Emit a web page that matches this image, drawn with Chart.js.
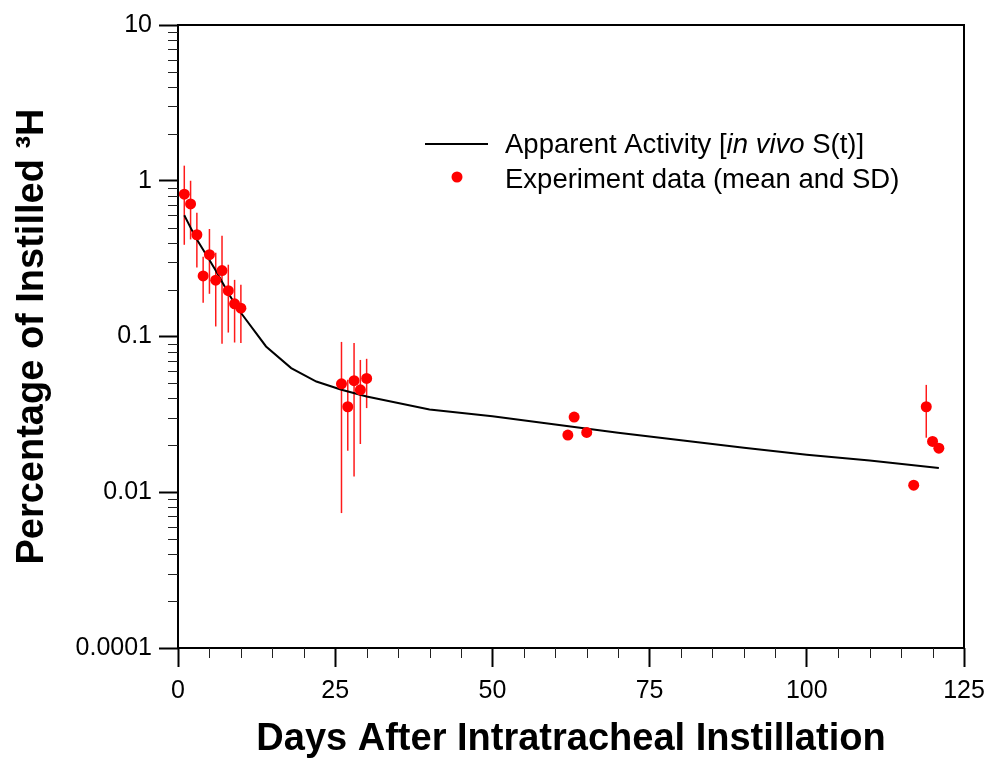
<!DOCTYPE html>
<html>
<head>
<meta charset="utf-8">
<script src="https://cdn.jsdelivr.net/npm/chart.js@4.4.1/dist/chart.umd.min.js"></script>
<style>
  html, body { margin: 0; padding: 0; background: #fff; }
</style>
</head>
<body>
<canvas id="chart" width="987" height="760"></canvas>
<script>
// experiment data (mean and SD)
const expDays  = [1, 2, 3, 4, 5, 6, 7, 8, 9, 10, 26, 27, 28, 29, 30, 62, 63, 65, 117, 119, 120, 121]
const expMean  = [0.82, 0.71, 0.45, 0.245, 0.335, 0.23, 0.265, 0.197, 0.162, 0.152,
                  0.0497, 0.0354, 0.052, 0.0455, 0.0538, 0.0233, 0.0304, 0.0242,
                  0.0111, 0.0354, 0.0212, 0.0192]
const expLow   = [0.388, 0.42, 0.277, 0.165, 0.188, 0.116, 0.09, 0.106, 0.0915, 0.091,
                  0.00735, 0.0185, 0.0126, 0.0204, 0.0347, null, null, null,
                  null, 0.0224, null, null]
const expHigh  = [1.25, 1.0, 0.623, 0.325, 0.49, 0.345, 0.443, 0.289, 0.231, 0.215,
                  0.0923, 0.0528, 0.0909, 0.0707, 0.0719, null, null, null,
                  null, 0.0489, null, null]

// apparent activity, in vivo S(t)
const curveDays   = [1, 2, 3, 4, 5, 6, 7, 8, 9, 10, 14, 18, 22, 26, 30, 40, 50, 60, 70, 80, 90, 100, 110, 121]
const curveValues = [0.60, 0.50, 0.42, 0.36, 0.31, 0.265, 0.225, 0.19, 0.163, 0.142, 0.0863, 0.0627,
                     0.0514, 0.0455, 0.0412, 0.034, 0.0308, 0.0272, 0.0241, 0.0216, 0.0193, 0.0174,
                     0.016, 0.0143]

const xTicks = [0, 25, 50, 75, 100, 125]
const yTickValues = [0.001, 0.01, 0.1, 1, 10]
const yTickLabels = ['0.0001', '0.01', '0.1', '1', '10']

const FONT = '"Liberation Sans", Arial, sans-serif'

const errorBars = {
  id: 'errorBars',
  beforeDatasetsDraw(chart) {
    const {ctx, scales: {x, y}} = chart
    ctx.save()
    ctx.strokeStyle = '#ff1a1a'
    ctx.lineWidth = 1.5
    expDays.forEach((d, i) => {
      if (expLow[i] == null) return
      const px = x.getPixelForValue(d)
      ctx.beginPath()
      ctx.moveTo(px, y.getPixelForValue(expLow[i]))
      ctx.lineTo(px, y.getPixelForValue(expHigh[i]))
      ctx.stroke()
    })
    ctx.restore()
  }
}

const frameAndMinor = {
  id: 'frameAndMinor',
  afterDraw(chart) {
    const {ctx, chartArea: a, scales: {x, y}} = chart
    ctx.save()
    ctx.strokeStyle = '#000'
    ctx.lineWidth = 2
    ctx.strokeRect(a.left, a.top, a.right - a.left, a.bottom - a.top)

    ctx.lineWidth = 1
    ctx.strokeStyle = '#222'
    ctx.beginPath()
    for (let d = 0.001; d < 10; d *= 10) {
      for (let k = 2; k <= 9; k++) {
        const py = Math.round(y.getPixelForValue(d * k)) + 0.5
        ctx.moveTo(a.left - 10, py)
        ctx.lineTo(a.left, py)
      }
    }
    for (let v = 5; v < 125; v += 5) {
      if (v % 25 === 0) continue
      const px = Math.round(x.getPixelForValue(v)) + 0.5
      ctx.moveTo(px, a.bottom)
      ctx.lineTo(px, a.bottom + 10)
    }
    ctx.stroke()
    ctx.restore()
  }
}

const customLegend = {
  id: 'customLegend',
  afterDraw(chart) {
    const {ctx, chartArea: a} = chart
    const lx = a.left + 247, tx = a.left + 327
    const y1 = a.top + 119, y2 = a.top + 152
    ctx.save()
    ctx.strokeStyle = '#000'
    ctx.lineWidth = 2
    ctx.beginPath()
    ctx.moveTo(lx, y1)
    ctx.lineTo(lx + 63, y1)
    ctx.stroke()

    ctx.fillStyle = '#ff0000'
    ctx.beginPath()
    ctx.arc(lx + 32, y2, 5.5, 0, Math.PI * 2)
    ctx.fill()

    ctx.fillStyle = '#000'
    ctx.textBaseline = 'alphabetic'
    const base1 = a.top + 128, base2 = a.top + 163
    const parts = [['Apparent Activity [', ''], ['in vivo', 'italic '], [' S(t)]', '']]
    let cx = tx
    parts.forEach(([t, style]) => {
      ctx.font = style + '27.5px ' + FONT
      ctx.fillText(t, cx, base1)
      cx += ctx.measureText(t).width
    })
    ctx.font = '27.5px ' + FONT
    ctx.fillText('Experiment data (mean and SD)', tx, base2)
    ctx.restore()
  }
}

new Chart(document.getElementById('chart'), {
  data: {
    datasets: [
      {
        type: 'scatter',
        label: 'Experiment data (mean and SD)',
        data: expDays.map((d, i) => ({x: d, y: expMean[i]})),
        backgroundColor: '#ff0000',
        borderWidth: 0,
        pointRadius: 5.5,
        order: 0
      },
      {
        type: 'line',
        label: 'Apparent Activity [in vivo S(t)]',
        data: curveDays.map((d, i) => ({x: d, y: curveValues[i]})),
        borderColor: '#000',
        borderWidth: 2,
        pointRadius: 0,
        tension: 0,
        fill: false,
        order: 1
      }
    ]
  },
  options: {
    responsive: false,
    animation: false,
    layout: { padding: { left: 0, top: 25, right: 23, bottom: 0 } },
    plugins: {
      legend: { display: false },
      tooltip: { enabled: false }
    },
    scales: {
      x: {
        type: 'linear',
        min: 0,
        max: 125,
        afterBuildTicks: s => { s.ticks = xTicks.map(v => ({value: v})) },
        afterFit: s => { s.height = 112; s.paddingRight = 0; s.paddingLeft = 0 },
        border: { display: false },
        grid: { drawOnChartArea: false, tickLength: 19, tickWidth: 2, tickColor: '#000' },
        ticks: { color: '#000', padding: 9, font: { family: FONT, size: 25 }, maxRotation: 0 },
        title: {
          display: true,
          text: 'Days After Intratracheal Instillation',
          color: '#000',
          font: { family: FONT, size: 38, weight: 'bold', lineHeight: 1 },
          padding: { top: 0, bottom: 1 }
        }
      },
      y: {
        type: 'logarithmic',
        min: 0.001,
        max: 10,
        afterBuildTicks: s => { s.ticks = yTickValues.map(v => ({value: v})) },
        afterFit: s => { s.width = 178; s.paddingTop = 0; s.paddingBottom = 0 },
        border: { display: false },
        grid: { drawOnChartArea: false, tickLength: 19, tickWidth: 2, tickColor: '#000' },
        ticks: {
          color: '#000',
          padding: 7,
          autoSkip: false,
          font: { family: FONT, size: 25 },
          callback: (v, i) => yTickLabels[i]
        },
        title: {
          display: true,
          text: 'Percentage of Instilled \u00B3H',
          color: '#000',
          font: { family: FONT, size: 38, weight: 'bold', lineHeight: 1 },
          padding: { top: 14, bottom: 0 }
        }
      }
    }
  },
  plugins: [errorBars, frameAndMinor, customLegend]
})
</script>
</body>
</html>
